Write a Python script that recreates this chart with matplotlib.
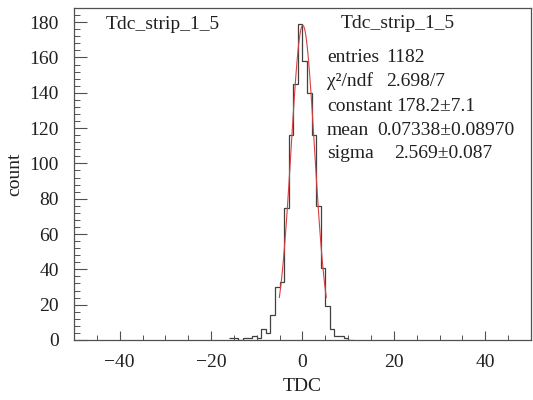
import numpy as np
import matplotlib
matplotlib.use("Agg")
import matplotlib.pyplot as plt
from matplotlib.ticker import MultipleLocator

plt.rcParams['font.family'] = ['Liberation Serif', 'DejaVu Serif']

# histogram of TDC (bin width 1)
bin_edges = list(range(-16, 12))
counts = [1, 1, 0, 1, 1, 2, 1, 6, 4, 14, 30, 33, 75, 116, 145, 179,
          158, 140, 116, 76, 41, 19, 6, 2, 2, 1, 0]

# gaussian fit parameters (from stats box)
fit_const = 178.2
fit_mean = 0.07338
fit_sigma = 2.569

stats_labels = ["entries", "χ²/ndf", "constant", "mean", "sigma"]
stats_values = ["1182", "2.698/7", "178.2±7.1", "0.07338±0.08970", "2.569±0.087"]
hist_name = "Tdc_strip_1_5"

fig = plt.figure(figsize=(5.33, 4.0), dpi=100, facecolor='white')
ax = fig.add_axes([0.1388, 0.15, 0.8574, 0.83])

ax.stairs(counts, bin_edges, color='#404040', lw=0.9, baseline=None)

xf = np.linspace(fit_mean - 2 * fit_sigma, fit_mean + 2 * fit_sigma, 100)
yf = fit_const * np.exp(-0.5 * ((xf - fit_mean) / fit_sigma) ** 2)
ax.plot(xf, yf, color='#d84040', lw=0.8)

ax.set_xlim(-50, 50)
ax.set_ylim(0, 188)

ax.xaxis.set_major_locator(MultipleLocator(20))
ax.xaxis.set_minor_locator(MultipleLocator(5))
ax.yaxis.set_major_locator(MultipleLocator(20))
ax.yaxis.set_minor_locator(MultipleLocator(4))

ax.tick_params(axis='both', which='both', direction='in', labelsize=14, colors='#505050',
               labelcolor='#202020')
ax.tick_params(axis='y', which='major', length=9.5, width=0.8, pad=11)
ax.tick_params(axis='y', which='minor', length=4.5, width=0.7)
ax.tick_params(axis='x', which='major', length=6.5, width=0.8, pad=10)
ax.tick_params(axis='x', which='minor', length=3.3, width=0.7)

for s in ax.spines.values():
    s.set_color('#505050')
    s.set_linewidth(0.9)

ax.set_xlabel("TDC", fontsize=14, color='#202020', labelpad=5)
ax.set_ylabel("count", fontsize=14, color='#202020', labelpad=4)


# text placed in pixel positions, y measured from the top
def px(x, y):
    return x / 533.0, 1 - y / 400.0


fig.text(*px(106, 29), hist_name, fontsize=14, color='#202020', va='baseline')
fig.text(*px(341, 28), hist_name, fontsize=14, color='#202020', va='baseline')
row_y = [62, 86, 111, 135, 158]
val_x = [386, 386, 396, 377, 394]
for lab, val, yy, vx in zip(stats_labels, stats_values, row_y, val_x):
    fig.text(*px(327, yy), lab, fontsize=14, color='#202020', va='baseline')
    fig.text(*px(vx, yy), val, fontsize=14, color='#202020', va='baseline')

fig.savefig("out.png", dpi=100)
